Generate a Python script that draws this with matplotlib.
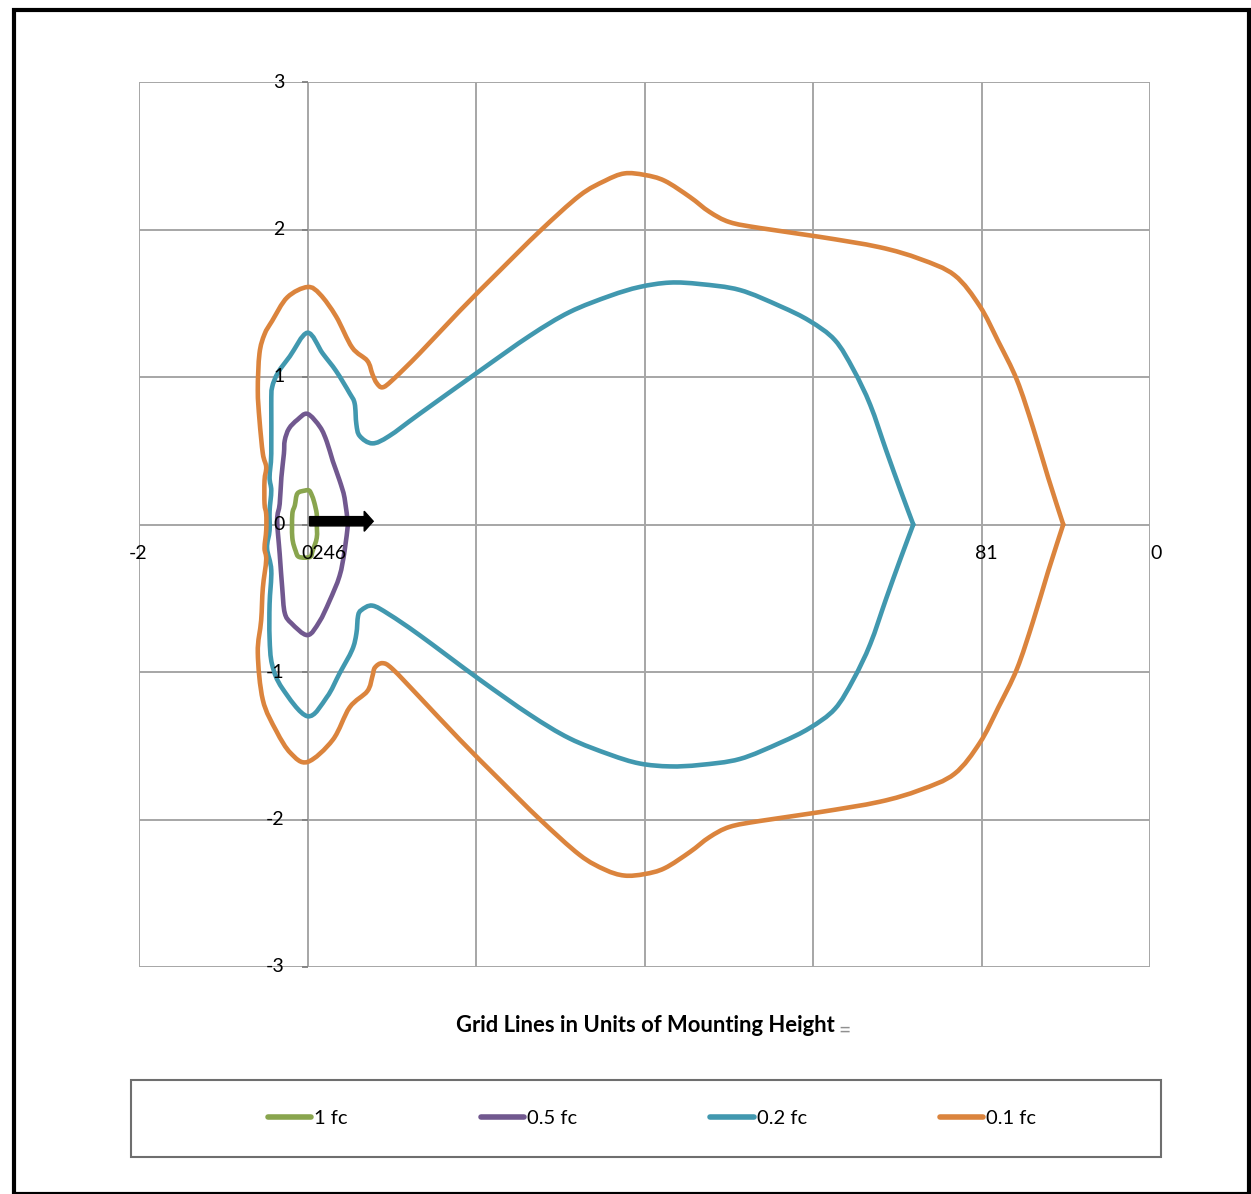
import matplotlib
matplotlib.use("Agg")
import matplotlib.pyplot as plt
from matplotlib.patches import Rectangle, PathPatch
from matplotlib.path import Path
from matplotlib.lines import Line2D

plt.rcParams['font.family'] = ['Lato', 'DejaVu Sans']

# ---------------- data ----------------
series_names = ["1 fc", "0.5 fc", "0.2 fc", "0.1 fc"]
series_colors = ["#89A54E", "#71588F", "#4198AF", "#DB843D"]

green_x = [0.11, 0.11, 0.08, 0.05, 0.02, -0.03, -0.12, -0.15, -0.18, -0.18, -0.14, -0.10, 0.03, 0.06, 0.11, 0.11]
green_y = [0.00, 0.07, 0.15, 0.20, 0.23, 0.23, 0.21, 0.13, 0.07, -0.09, -0.18, -0.22, -0.22, -0.18, -0.09, 0.00]

purple_x = [0.48, 0.44, 0.38, 0.30, 0.23, 0.15, 0.00, -0.12, -0.22, -0.27, -0.28, -0.31, -0.33, -0.36,
            -0.33, -0.30, -0.27, -0.19, 0.00, 0.14, 0.26, 0.38, 0.44, 0.48]
purple_y = [0.00, 0.18, 0.30, 0.43, 0.56, 0.66, 0.75, 0.71, 0.65, 0.57, 0.48, 0.32, 0.14, 0.03,
            -0.20, -0.43, -0.60, -0.67, -0.75, -0.66, -0.52, -0.35, -0.18, 0.00]

teal_x = [7.19, 7.04, 6.87, 6.68, 6.48, 6.26, 5.96, 5.61, 5.13, 4.66, 4.30, 3.94, 3.59, 3.11, 2.64, 2.04,
          1.33, 0.97, 0.77, 0.62, 0.58, 0.56, 0.50, 0.34, 0.18, 0.00, -0.21, -0.35, -0.42, -0.43, -0.43,
          -0.45, -0.43, -0.45, -0.45,
          -0.48, -0.43, -0.45, -0.45, -0.42, -0.30, 0.00, 0.23, 0.38, 0.53, 0.58, 0.60, 0.64, 0.77, 0.97,
          1.33, 2.04, 2.64, 3.11, 3.59, 3.94, 4.30, 4.66, 5.13, 5.61, 5.96, 6.26, 6.48, 6.68, 6.87, 7.04, 7.19]
teal_y = [0.00, 0.23, 0.50, 0.81, 1.05, 1.25, 1.38, 1.48, 1.59, 1.63, 1.64, 1.61, 1.55, 1.44, 1.28, 1.04,
          0.75, 0.60, 0.55, 0.60, 0.68, 0.82, 0.89, 1.04, 1.16, 1.30, 1.14, 1.03, 0.93, 0.82, 0.48,
          0.32, 0.23, 0.09, -0.04,
          -0.16, -0.31, -0.54, -0.77, -0.95, -1.11, -1.30, -1.17, -1.01, -0.85, -0.74, -0.62, -0.58, -0.55, -0.61,
          -0.75, -1.05, -1.29, -1.45, -1.56, -1.62, -1.64, -1.63, -1.59, -1.48, -1.38, -1.25, -1.05, -0.81, -0.50, -0.23, 0.00]

orange_x = [8.97, 8.79, 8.61, 8.42, 8.20, 7.98, 7.68, 7.27, 6.79, 6.08, 5.37, 5.01, 4.77, 4.54, 4.24, 4.00,
            3.76, 3.53, 3.23, 2.76, 2.28, 1.81, 1.33, 1.01, 0.89, 0.82, 0.77, 0.71, 0.53, 0.34, 0.15, 0.00,
            -0.24, -0.42, -0.51, -0.57, -0.59, -0.57, -0.53, -0.49, -0.51, -0.51, -0.49, -0.49,
            -0.51, -0.49, -0.53, -0.55, -0.59, -0.53, -0.37, -0.20, 0.00, 0.30, 0.50, 0.71, 0.77, 0.80, 0.89,
            1.01, 1.33, 1.81, 2.28, 2.76, 3.23, 3.53, 3.76, 4.00, 4.24, 4.54, 4.77, 5.01, 5.37, 6.08, 6.79,
            7.27, 7.68, 7.98, 8.20, 8.42, 8.61, 8.79, 8.97]
orange_y = [0.00, 0.32, 0.66, 0.98, 1.24, 1.48, 1.69, 1.80, 1.88, 1.95, 2.01, 2.05, 2.12, 2.22, 2.33, 2.37,
            2.38, 2.33, 2.23, 1.99, 1.72, 1.45, 1.16, 0.98, 0.93, 0.96, 1.02, 1.11, 1.20, 1.41, 1.56, 1.61,
            1.54, 1.38, 1.29, 1.16, 0.91, 0.71, 0.48, 0.39, 0.30, 0.14, 0.07, -0.04,
            -0.16, -0.24, -0.43, -0.65, -0.87, -1.19, -1.40, -1.55, -1.61, -1.46, -1.24, -1.13, -1.03, -0.97, -0.94,
            -0.98, -1.17, -1.46, -1.73, -2.00, -2.24, -2.34, -2.38, -2.37, -2.33, -2.22, -2.12, -2.05, -2.01, -1.95, -1.88,
            -1.80, -1.69, -1.48, -1.24, -0.98, -0.66, -0.32, 0.00]

series_x = [green_x, purple_x, teal_x, orange_x]
series_y = [green_y, purple_y, teal_y, orange_y]

x_grid = [-2, 0, 2, 4, 6, 8, 10]
y_ticks = [-3, -2, -1, 0, 1, 2, 3]
y_tick_labels = ["-3", "-2", "-1", "0", "1", "2", "3"]
x_label_pos = [-2, 0, 8, 10]
x_label_text = ["-2", "0246", "81", "0"]
x_label_shift_pt = [-0.4, 12.0, 3.6, 4.7]

arrow_start = 0.024
arrow_end = 0.78
arrow_y = 0.022

title = "Grid Lines in Units of Mounting Height"


def smooth_path(xs, ys):
    """Excel-like smoothed line: Catmull-Rom segments drawn as cubic Bezier curves."""
    pts = list(zip(xs, ys))
    n = len(pts)
    verts = [pts[0]]
    codes = [Path.MOVETO]
    for i in range(n - 1):
        p0 = pts[i - 1] if i > 0 else pts[i]
        p1 = pts[i]
        p2 = pts[i + 1]
        p3 = pts[i + 2] if i + 2 < n else pts[i + 1]
        c1 = (p1[0] + (p2[0] - p0[0]) / 6.0, p1[1] + (p2[1] - p0[1]) / 6.0)
        c2 = (p2[0] - (p3[0] - p1[0]) / 6.0, p2[1] - (p3[1] - p1[1]) / 6.0)
        verts += [c1, c2, p2]
        codes += [Path.CURVE4] * 3
    return Path(verts, codes)


# ---------------- figure ----------------
W, H = 1251, 1194
fig = plt.figure(figsize=(W / 100, H / 100), dpi=100)
ax = fig.add_axes([139 / W, 1 - 967 / H, (1150 - 139) / W, (967 - 82) / H])
ax.set_xlim(-2, 10)
ax.set_ylim(-3, 3)

for s in ['top', 'right', 'bottom']:
    ax.spines[s].set_visible(False)
ax.spines['left'].set_position(('data', 0))
ax.spines['left'].set_visible(False)
ax.set_xticks(x_grid)
ax.set_yticks(y_ticks)
ax.tick_params(axis='x', length=0, labelbottom=False)
ax.tick_params(axis='y', length=4, width=1.3, color='#808080', direction='out', labelleft=False)
ax.grid(True, color='#A6A6A6', linewidth=1.4)
ax.set_axisbelow(True)

handles = []
for xs, ys, c, n in zip(series_x, series_y, series_colors, series_names):
    patch = PathPatch(smooth_path(xs, ys), facecolor='none', edgecolor=c, linewidth=3.3,
                      joinstyle='round', capstyle='round', zorder=3)
    ax.add_patch(patch)
    handles.append(Line2D([], [], color=c, linewidth=4, solid_capstyle='round', label=n))

ax.arrow(arrow_start, arrow_y, arrow_end - arrow_start, 0, width=0.063, head_width=0.136,
         head_length=0.107, length_includes_head=True, color='black', zorder=5)

for y, lab in zip(y_ticks, y_tick_labels):
    ax.annotate(lab, xy=(0, y), xytext=(-16.5, 0), textcoords='offset points',
                ha='right', va='center', fontsize=14, color='black', zorder=6)
for x, lab, sh in zip(x_label_pos, x_label_text, x_label_shift_pt):
    ax.annotate(lab, xy=(x, 0), xytext=(sh, -14.5), textcoords='offset points',
                ha='center', va='top', fontsize=14, color='black', zorder=6)

# axis title
fig.text(645.5 / W, 1 - 1025 / H, title, ha='center', va='center', fontsize=15.8, fontweight='bold')
fig.text(844 / W, 1 - 1031 / H, "=", ha='center', va='center', fontsize=15, color='#909090')

# legend
leg = fig.legend(handles=handles, loc='center',
                 bbox_to_anchor=(137 / W, 1 - 1157 / H, 1030 / W, 77 / H),
                 ncol=4, frameon=False, fontsize=14.5, handlelength=2.15, handletextpad=0.15,
                 columnspacing=6.6)
fig.add_artist(Rectangle((131 / W, 1 - 1157 / H), 1030 / W, 77 / H, transform=fig.transFigure,
                         fill=False, edgecolor='#6E6E6E', linewidth=1.5))

# outer border
fig.add_artist(Rectangle((14 / W, 1 - 1193.5 / H), 1235 / W, 1184 / H, transform=fig.transFigure,
                         fill=False, edgecolor='black', linewidth=3))

fig.savefig("out.png", dpi=100, facecolor='white')
